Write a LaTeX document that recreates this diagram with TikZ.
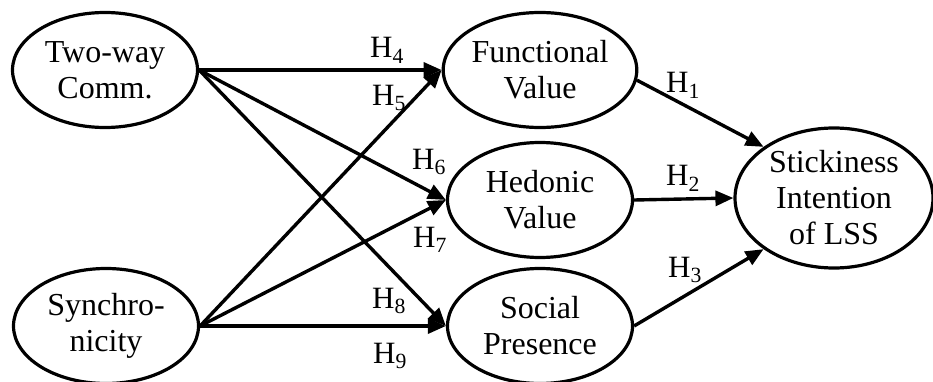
\documentclass[tikz,border=0pt]{standalone}
\usepackage{fontspec}
\setmainfont{Liberation Serif}
\usetikzlibrary{arrows.meta,shapes.geometric}
\begin{document}
\begin{tikzpicture}[x=1pt,y=-1pt,
  construct/.style={draw,line width=3.2pt,ellipse,minimum width=185pt,minimum height=115pt,
    inner sep=0pt,align=center,font=\fontsize{32}{36}\selectfont},
  path/.style={line width=3.4pt,-{Triangle[length=18pt,width=15pt]}},
  hyp/.style={font=\fontsize{31}{34}\selectfont,inner sep=0pt}]
\useasboundingbox (0,0) rectangle (933,382);
% constructs
\node[construct] (tw) at (105,70) {Two-way\\Comm.};
\node[construct] (sy) at (106,326) {Synchro-\\nicity};
\node[construct] (fv) at (540,70) {Functional\\Value};
\node[construct] (hv) at (540,200) {Hedonic\\Value};
\node[construct] (sp) at (540,326) {Social\\Presence};
\node[construct,minimum width=198pt,minimum height=140pt] (si) at (834,198) {Stickiness\\Intention\\of LSS};
% hypothesised paths
\draw[path] (tw.east) -- (fv.west);
\draw[path] (tw.east) -- (hv.west);
\draw[path] (tw.east) -- (sp.west);
\draw[path] (sy.east) -- (fv.west);
\draw[path] (sy.east) -- (hv.west);
\draw[path] (sy.east) -- (sp.west);
\draw[path] (fv.-6) -- (si.144);
\draw[path] (hv.east) -- (si.west);
\draw[path] (sp.east) -- (si.216);
% path labels
\node[hyp] (h4) at (387,50) {H\textsubscript{4}};
\node[hyp] (h5) at (389,98) {H\textsubscript{5}};
\node[hyp] (h6) at (429,162) {H\textsubscript{6}};
\node[hyp] (h7) at (430,240) {H\textsubscript{7}};
\node[hyp] (h8) at (389,301) {H\textsubscript{8}};
\node[hyp] (h9) at (390,356) {H\textsubscript{9}};
\node[hyp] (h1) at (683,85) {H\textsubscript{1}};
\node[hyp] (h2) at (683,178) {H\textsubscript{2}};
\node[hyp] (h3) at (685,270) {H\textsubscript{3}};
\end{tikzpicture}
\end{document}
